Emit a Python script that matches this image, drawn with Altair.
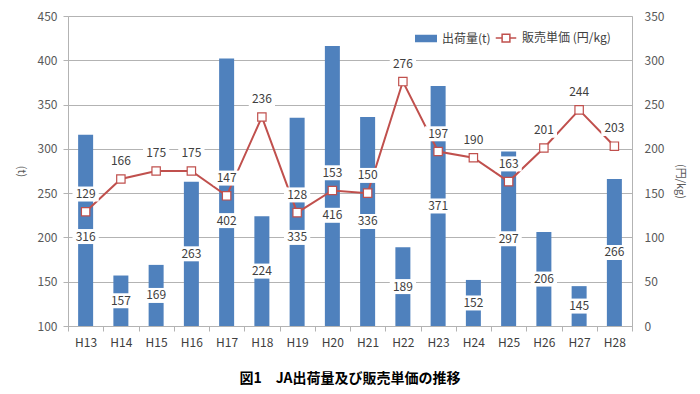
import altair as alt
import pandas as pd

years = ["H13", "H14", "H15", "H16", "H17", "H18", "H19", "H20",
         "H21", "H22", "H23", "H24", "H25", "H26", "H27", "H28"]
shipment_t = [316, 157, 169, 263, 402, 224, 335, 416, 336, 189, 371, 152, 297, 206, 145, 266]
price_yen_kg = [129, 166, 175, 175, 147, 236, 128, 153, 150, 276, 197, 190, 163, 201, 244, 203]
series_names = ["出荷量(t)", "販売単価 (円/kg)"]
left_ticks = [100, 150, 200, 250, 300, 350, 400, 450]
right_ticks = [0, 50, 100, 150, 200, 250, 300, 350]
caption = "図1　JA出荷量及び販売単価の推移"

df = pd.DataFrame({"year": years, "t": shipment_t, "p": price_yen_kg})
leg_df = pd.DataFrame({"series": series_names})

FONT = "Noto Sans CJK JP"
BLUE = "#4f81bd"
RED = "#c0504d"
GRID = "#b3b3b3"
TXT = "#404040"
BOX = "M-1.75,-1L1.75,-1L1.75,1L-1.75,1Z"
RECT = "M-1.45,-0.42L1.45,-0.42L1.45,0.42L-1.45,0.42Z"
LINESQ = "M-1.45,0L-0.55,0M0.55,0L1.45,0M-0.55,-0.55L0.55,-0.55L0.55,0.55L-0.55,0.55Z"

x = alt.X("year:N", sort=years,
          scale=alt.Scale(paddingInner=0, paddingOuter=0),
          axis=alt.Axis(title=None, labelAngle=0, tickBand="extent", tickSize=5,
                        labelPadding=6, labelFontSize=12, labelColor=TXT, labelFont=FONT,
                        domainColor=GRID, tickColor=GRID))

yl_scale = alt.Scale(domain=[100, 450], nice=False, zero=False)
yl_axis = alt.Axis(values=left_ticks, grid=True, gridColor=GRID, domainColor=GRID,
                   tickColor=GRID, tickSize=5, labelPadding=6, labelFontSize=12,
                   labelColor="#595959", labelFont=FONT,
                   title="(t)", titleAngle=90, titleX=-48, titleY=155,
                   titleFontSize=11, titleFontWeight="normal", titleColor="#595959",
                   titleFont=FONT, titleAlign="center", titleBaseline="middle")

bars = alt.Chart(df).mark_bar(size=15, color=BLUE).encode(
    x=x, y=alt.Y("t:Q", scale=yl_scale, axis=yl_axis), y2=alt.datum(100))
# bar labels sit at the bar middle, moved below the price marker when they would hit it
# (left axis units = right axis units + 100, both span 350 over the same height)
bar_lab = alt.Chart(df).transform_calculate(
    mid="(datum.t + 100) / 2"
).transform_calculate(
    ly="abs(datum.mid - (datum.p + 100)) < 25 ? datum.p + 72 : datum.mid"
)
bar_box = bar_lab.mark_point(shape=BOX, size=225, filled=True, color="white", opacity=1).encode(
    x=x, y=alt.Y("ly:Q", scale=yl_scale, axis=yl_axis))
bar_txt = bar_lab.mark_text(font=FONT, fontSize=12, color=TXT).encode(
    x=x, y=alt.Y("ly:Q", scale=yl_scale, axis=yl_axis), text="t:Q")
left = alt.layer(bars, bar_box, bar_txt)

yr_scale = alt.Scale(domain=[0, 350], nice=False)
yr_axis = alt.Axis(orient="right", values=right_ticks, grid=False, domainColor=GRID,
                   tickSize=0, labelPadding=12, labelFontSize=12, labelColor="#595959",
                   labelFont=FONT, title="(円/kg)", titleAngle=90, titleX=47, titleY=165,
                   titleFontSize=11, titleFontWeight="normal", titleColor="#595959",
                   titleFont=FONT, titleAlign="center", titleBaseline="middle")

line = alt.Chart(df).mark_line(color=RED, strokeWidth=2).encode(
    x=x, y=alt.Y("p:Q", scale=yr_scale, axis=yr_axis))
pts = alt.Chart(df).mark_point(shape="square", size=70, filled=True, fill="white",
                               stroke=RED, strokeWidth=1.2, opacity=1).encode(
    x=x, y=alt.Y("p:Q", scale=yr_scale, axis=yr_axis))
line_lab = alt.Chart(df).transform_calculate(ly="datum.p + 20")
line_box = line_lab.mark_point(shape=BOX, size=225, filled=True, color="white", opacity=1).encode(
    x=x, y=alt.Y("ly:Q", scale=yr_scale, axis=yr_axis))
line_txt = line_lab.mark_text(font=FONT, fontSize=12, color=TXT).encode(
    x=x, y=alt.Y("ly:Q", scale=yr_scale, axis=yr_axis), text="p:Q")
right = alt.layer(line, pts, line_box, line_txt)

legend = alt.Legend(title=None, orient="none", legendX=347, legendY=11, direction="horizontal",
                    fillColor="white", padding=3, symbolSize=200,
                    symbolStrokeWidth=1.5, labelFont=FONT, labelFontSize=12, labelColor=TXT,
                    labelOffset=8, columnPadding=1)
leg = alt.Chart(leg_df).transform_filter("false").mark_point(opacity=1, filled=True).encode(
    fill=alt.Fill("series:N", scale=alt.Scale(domain=series_names, range=[BLUE, "white"]), legend=legend),
    stroke=alt.Stroke("series:N", scale=alt.Scale(domain=series_names, range=[BLUE, RED]), legend=legend),
    shape=alt.Shape("series:N", scale=alt.Scale(domain=series_names, range=[RECT, LINESQ]), legend=legend),
)

chart = alt.layer(left, right, leg).resolve_scale(y="independent").properties(
    width=564, height=310,
    autosize=alt.AutoSizeParams(type="none"),
    padding={"left": 60, "top": 8, "right": 60, "bottom": 60},
    title=alt.TitleParams(caption, orient="bottom", anchor="middle", fontSize=14,
                          fontWeight="bold", font=FONT, color="#000000", offset=24),
).configure_view(stroke=None).configure(background="white")

chart.save("out.html", embed_options={"renderer": "svg", "actions": False})
